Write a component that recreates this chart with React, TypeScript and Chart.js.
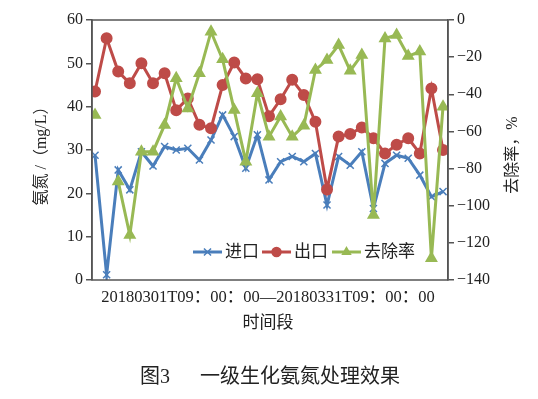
import { useEffect, useRef } from 'react';
import { Chart, registerables } from 'chart.js';
import { drawPoint } from 'chart.js/helpers';

Chart.register(...registerables);

const dayLabels = [
  '03-01', '03-02', '03-03', '03-04', '03-05', '03-06', '03-07', '03-08', '03-09', '03-10',
  '03-11', '03-12', '03-13', '03-14', '03-15', '03-16', '03-17', '03-18', '03-19', '03-20',
  '03-21', '03-22', '03-23', '03-24', '03-25', '03-26', '03-27', '03-28', '03-29', '03-30', '03-31',
];

const inletNH3 = [
  28.8, 1.2, 25.4, 20.8, 29.6, 26.3, 30.8, 30.0, 30.4, 27.7,
  32.3, 38.1, 33.1, 25.8, 33.5, 23.1, 27.3, 28.5, 27.3, 29.2,
  17.3, 28.5, 26.5, 29.6, 16.5, 26.9, 28.8, 28.1, 24.2, 19.2, 20.4,
];

const outletNH3 = [
  43.5, 55.8, 48.1, 45.4, 50.0, 45.4, 47.7, 39.2, 41.9, 35.8,
  35.0, 45.0, 50.2, 46.5, 46.3, 37.8, 41.7, 46.2, 42.7, 36.5,
  20.9, 33.1, 33.7, 35.2, 32.7, 29.2, 31.2, 32.7, 29.2, 44.2, 30.0,
];

const removalRate: (number | null)[] = [
  -51.2, null, -87, -115.8, -70.9, -70.9, -56.5, -31.4, -47.6, -28.7,
  -6.3, -21.2, -48.5, -76.3, -39.5, -62.8, -52, -62.8, -57, -26.9,
  -21.5, -13.5, -27.3, -18.8, -105, -9.9, -8.1, -19.4, -17, -128.3, -46.7,
];

const seriesNames = ['进口', '出口', '去除率'];
const xAxisLabel = '20180301T09：00：00—20180331T09：00：00';
const xAxisTitle = '时间段';
const leftTitle = '氨氮 /（mg/L）';
const rightTitle = '去除率，%';
const captionNo = '图3';
const captionText = '一级生化氨氮处理效果';

const BLUE = '#4A7EBB';
const RED = '#BE4B48';
const GREEN = '#98B954';
const SERIF = '"Liberation Serif", "Noto Sans CJK SC", serif';

export default function App() {
  const ref = useRef<HTMLCanvasElement>(null);

  useEffect(() => {
    document.body.style.margin = '0';
    const canvas = ref.current!;
    const toXY = (arr: (number | null)[]) => arr.map((v, i) => ({ x: i, y: v }));

    const textPlugin = {
      id: 'texts',
      afterDraw(chart: any) {
        const ctx = chart.ctx as CanvasRenderingContext2D;
        const a = chart.chartArea;
        ctx.save();
        // frame
        ctx.strokeStyle = '#555';
        ctx.lineWidth = 1.5;
        ctx.strokeRect(a.left, a.top, a.right - a.left, a.bottom - a.top);

        ctx.fillStyle = '#222';
        ctx.textAlign = 'center';
        ctx.textBaseline = 'middle';
        ctx.font = `16.5px ${SERIF}`;
        ctx.fillText(xAxisLabel, (a.left + a.right) / 2 - 2, 298);
        ctx.font = `17px ${SERIF}`;
        ctx.fillText(xAxisTitle, (a.left + a.right) / 2 - 2, 324);
        ctx.font = `20px ${SERIF}`;
        ctx.textAlign = 'left';
        ctx.fillText(captionNo, 140, 378);
        ctx.fillText(captionText, 200, 378);
        ctx.textAlign = 'center';

        ctx.font = `16px ${SERIF}`;
        ctx.save();
        ctx.translate(42, 152);
        ctx.rotate(-Math.PI / 2);
        ctx.fillText(leftTitle, 0, 0);
        ctx.restore();
        ctx.save();
        ctx.translate(513, 155);
        ctx.rotate(-Math.PI / 2);
        ctx.fillText(rightTitle, 0, 0);
        ctx.restore();

        // legend
        const items = [
          { color: BLUE, style: 'crossRot', r: 5, x: 193, name: seriesNames[0] },
          { color: RED, style: 'circle', r: 4.5, x: 262, name: seriesNames[1] },
          { color: GREEN, style: 'triangle', r: 4.5, x: 332, name: seriesNames[2] },
        ];
        const ly = 252;
        ctx.font = `17px ${SERIF}`;
        ctx.textAlign = 'left';
        for (const it of items) {
          ctx.strokeStyle = it.color;
          ctx.lineWidth = 3;
          ctx.beginPath();
          ctx.moveTo(it.x, ly);
          ctx.lineTo(it.x + 29, ly);
          ctx.stroke();
          ctx.fillStyle = it.color;
          ctx.lineWidth = 1.5;
          drawPoint(ctx, { pointStyle: it.style as any, radius: it.r, rotation: 0, borderWidth: 1.5 }, it.x + 14.5, ly);
          ctx.fillStyle = '#222';
          ctx.fillText(it.name, it.x + 32, ly + 1);
        }
        ctx.restore();
      },
    };

    const chart = new Chart(canvas, {
      type: 'line',
      data: {
        labels: dayLabels,
        datasets: [
          {
            label: seriesNames[0],
            data: toXY(inletNH3) as any,
            borderColor: BLUE,
            backgroundColor: BLUE,
            borderWidth: 3,
            pointStyle: 'crossRot',
            pointRadius: 5,
            pointBorderWidth: 1.5,
            yAxisID: 'y',
            order: 2,
          },
          {
            label: seriesNames[1],
            data: toXY(outletNH3) as any,
            borderColor: RED,
            backgroundColor: RED,
            borderWidth: 3,
            pointStyle: 'circle',
            pointRadius: 4.5,
            yAxisID: 'y',
            order: 1,
          },
          {
            label: seriesNames[2],
            data: toXY(removalRate) as any,
            borderColor: GREEN,
            backgroundColor: GREEN,
            borderWidth: 3,
            pointStyle: 'triangle',
            pointRadius: 4.5,
            yAxisID: 'y1',
            order: 0,
          },
        ],
      },
      options: {
        animation: false,
        responsive: false,
        events: [],
        layout: { padding: { top: 20, left: 0, right: 0, bottom: 0 } },
        plugins: { legend: { display: false }, tooltip: { enabled: false }, title: { display: false } },
        scales: {
          x: {
            type: 'linear',
            min: -0.26,
            max: 30.43,
            ticks: { display: false },
            grid: { display: false },
            border: { display: false },
            afterFit: (s: any) => { s.height = 119; },
          },
          y: {
            position: 'left',
            min: 0,
            max: 60,
            ticks: { stepSize: 10, color: '#222', font: { family: SERIF, size: 16 }, padding: 3 },
            grid: { drawOnChartArea: false, drawTicks: true, tickLength: 6, color: '#555', lineWidth: 1.5 },
            border: { display: true, color: '#555', width: 1.5 },
            afterFit: (s: any) => { s.width = 92; },
          },
          y1: {
            position: 'right',
            min: -140,
            max: 0,
            ticks: {
              stepSize: 20,
              color: '#222',
              font: { family: SERIF, size: 16 },
              padding: 3,
              callback: (v: any) => (Number(v) < 0 ? '−' + Math.abs(Number(v)) : String(v)),
            },
            grid: { drawOnChartArea: false, drawTicks: true, tickLength: 6, color: '#555', lineWidth: 1.5 },
            border: { display: true, color: '#555', width: 1.5 },
            afterFit: (s: any) => { s.width = 90; },
          },
        },
      },
      plugins: [textPlugin],
    });
    return () => chart.destroy();
  }, []);

  return (
    <div style={{ width: 538, height: 399, background: '#fff' }}>
      <canvas ref={ref} width={538} height={399} style={{ width: 538, height: 399, display: 'block' }} />
    </div>
  );
}
